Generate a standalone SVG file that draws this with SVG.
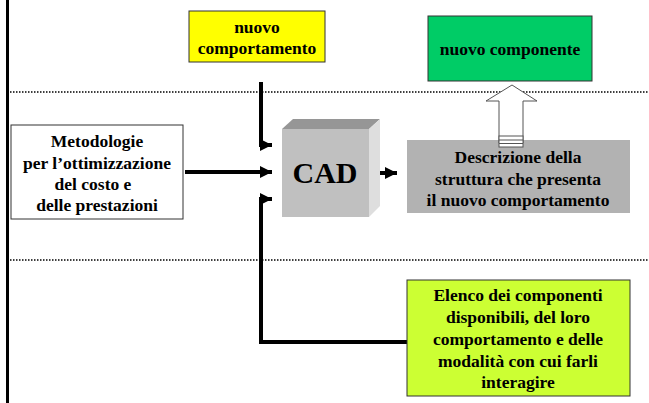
<svg xmlns="http://www.w3.org/2000/svg" width="649" height="403" viewBox="0 0 649 403">
  <style>
    .t { font-family: "Liberation Serif", "Times New Roman", serif; font-weight: bold; font-size: 17.5px; fill: #000; text-anchor: middle; }
    .box { stroke: #333; stroke-width: 1; }
    .wire { fill: none; stroke: #000; stroke-width: 4; }
    .dots { stroke: #000; stroke-width: 1.5; stroke-dasharray: 1.5 1.5; }
  </style>
  <defs>
    <marker id="head" viewBox="0 0 10 10" refX="10" refY="5" markerWidth="3" markerHeight="3" markerUnits="strokeWidth" orient="auto">
      <path d="M0,0 L10,5 L0,10 Z" fill="#000"/>
    </marker>
  </defs>
  <rect width="649" height="403" fill="#fff"/>

  <!-- frame edge and dotted separators -->
  <line x1="7.5" y1="0" x2="7.5" y2="403" stroke="#000" stroke-width="3"/>
  <line class="dots" x1="10" y1="92" x2="649" y2="92"/>
  <line class="dots" x1="10" y1="260" x2="649" y2="260"/>

  <g id="connectors">
    <path class="wire" d="M261,82 V145 H272" marker-end="url(#head)"/>
    <path class="wire" d="M185,172 H272" marker-end="url(#head)"/>
    <path class="wire" d="M407,342 H261 V199 H272" marker-end="url(#head)"/>
    <path class="wire" d="M375,173 H397" marker-end="url(#head)"/>
  </g>

  <g id="nuovo-comportamento">
    <rect class="box" x="189" y="11" width="136" height="51" fill="#ffff00"/>
    <text class="t" x="257" y="33">nuovo</text>
    <text class="t" x="257" y="54">comportamento</text>
  </g>

  <g id="metodologie">
    <rect class="box" x="11" y="125" width="172" height="94" fill="#fff"/>
    <text class="t" x="97" y="147">Metodologie</text>
    <text class="t" x="97" y="169">per l’ottimizzazione</text>
    <text class="t" x="93" y="190">del costo e</text>
    <text class="t" x="97" y="211">delle prestazioni</text>
  </g>

  <g id="cad">
    <polygon points="282,129 293,119 380,119 369,129" fill="#969696"/>
    <polygon points="369,129 380,119 380,206 369,217" fill="#dedede"/>
    <rect x="282" y="129" width="87" height="88" fill="#c0c0c0"/>
    <text class="t" x="325" y="183" style="font-size:30px">CAD</text>
  </g>

  <g id="descrizione">
    <rect x="407" y="140" width="223" height="73" fill="#b2b2b2"/>
    <text class="t" x="518" y="163">Descrizione della</text>
    <text class="t" x="518" y="185">struttura che presenta</text>
    <text class="t" x="518" y="206">il nuovo comportamento</text>
  </g>

  <g id="nuovo-componente">
    <rect class="box" x="428" y="16" width="164" height="65" fill="#00cc66"/>
    <text class="t" x="510" y="55">nuovo componente</text>
  </g>

  <g id="uscita">
    <path d="M499,143 V101 H486 L512,85 L537,101 H523 V143" fill="#fff" stroke="#555" stroke-width="1"/>
    <rect x="499" y="136" width="24" height="11" fill="#fff" stroke="#555" stroke-width="1"/>
    <line x1="499" y1="140" x2="523" y2="140" stroke="#555" stroke-width="1"/>
    <line x1="499" y1="143.5" x2="523" y2="143.5" stroke="#555" stroke-width="1"/>
  </g>

  <g id="elenco">
    <rect class="box" x="407" y="280" width="223" height="116" fill="#ccff33"/>
    <text class="t" x="518" y="301">Elenco dei componenti</text>
    <text class="t" x="518" y="323">disponibili, del loro</text>
    <text class="t" x="518" y="345">comportamento e delle</text>
    <text class="t" x="518" y="367">modalità con cui farli</text>
    <text class="t" x="518" y="388">interagire</text>
  </g>
</svg>
